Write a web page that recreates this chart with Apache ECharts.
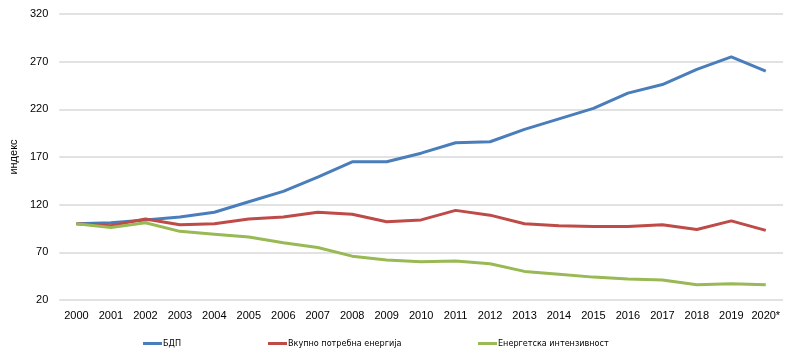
<!DOCTYPE html>
<html><head><meta charset="utf-8">
<script src="https://cdn.jsdelivr.net/npm/echarts@6/dist/echarts.min.js"></script>
<style>html,body{margin:0;padding:0;background:#fff}#c{width:800px;height:360px}</style>
</head><body><div id="c"></div>
<script>
var categories = ['2000','2001','2002','2003','2004','2005','2006','2007','2008','2009','2010','2011','2012','2013','2014','2015','2016','2017','2018','2019','2020*'];
var gdp = [100,101,104,107,112,123,134,149,165,165,174,185,186,199,210,221,237,246,262,275,260];
var energy = [100,98,105,99,100,105,107,112,110,102,104,114,109,100,98,97,97,99,94,103,93];
var intensity = [100,96,101,92,89,86,80,75,66,62,60,61,58,50,47,44,42,41,36,37,36];
var seriesNames = ['БДП','Вкупно потребна енергија','Енергетска интензивност'];
var colors = ['#4a7ebb','#be4b48','#98b954'];
var yTicks = {min:20, max:320, interval:50};

var chart = echarts.init(document.getElementById('c'));
function mk(name, data, color){
  return {name:name, type:'line', data:data, symbol:'none', smooth:false,
    lineStyle:{color:color, width:3}, itemStyle:{color:color}};
}
var legendLefts = [138, 263, 473];
var legends = seriesNames.map(function(n, i){
  return {left:legendLefts[i], top:334, itemWidth:19, itemHeight:3, icon:'rect',
    textStyle:{fontFamily:'DejaVu Sans Condensed', fontSize:9, color:'#000', padding:[0,0,0,-4]},
    data:[n]};
});
chart.setOption({
  animation:false,
  textStyle:{fontFamily:'Liberation Sans'},
  grid:{left:57, right:17, top:14, bottom:60},
  legend:legends,
  xAxis:{type:'category', data:categories, boundaryGap:true,
    axisLine:{show:false}, axisTick:{show:false},
    axisLabel:{color:'#000', fontSize:11, margin:10, interval:0}},
  yAxis:{type:'value', min:yTicks.min, max:yTicks.max, interval:yTicks.interval,
    name:'индекс', nameLocation:'middle', nameGap:37, nameRotate:90,
    nameTextStyle:{color:'#000', fontSize:11},
    axisLine:{show:false}, axisTick:{show:false},
    axisLabel:{color:'#000', fontSize:11, margin:11},
    splitLine:{lineStyle:{color:'#d9d9d9', width:1.5}}},
  series:[mk(seriesNames[0], gdp, colors[0]), mk(seriesNames[1], energy, colors[1]), mk(seriesNames[2], intensity, colors[2])]
});
</script></body></html>
